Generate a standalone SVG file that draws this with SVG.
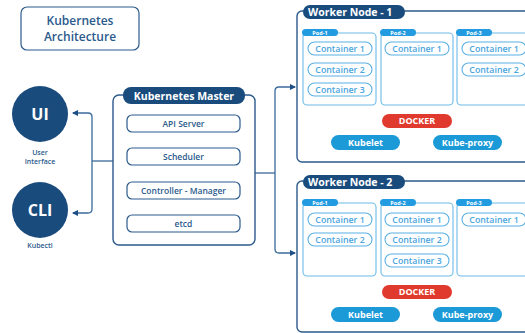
<svg xmlns="http://www.w3.org/2000/svg" width="525" height="333" viewBox="0 0 525 333">
<defs>
<style>
text{font-family:"Open Sans","Lato","Liberation Sans",sans-serif;}
.navy{fill:#194b7d;}
.ttl{fill:#fff;font-weight:bold;font-size:10.5px;}
.mbox{fill:#fff;stroke:#2b5a8c;stroke-width:1.4;}
.item{fill:#fff;stroke:#2b5a8c;stroke-width:1.2;}
.itxt{fill:#2b5a8c;font-size:8.5px;font-weight:600;text-anchor:middle;}
.pod{fill:#fff;stroke:#6bbbe8;stroke-width:1.1;}
.podlbl{fill:#239be0;}
.podtxt{fill:#fff;font-size:5.5px;font-weight:bold;text-anchor:middle;}
.cont{fill:#fff;stroke:#5ab0e4;stroke-width:1.1;}
.ctxt{fill:#4aa5de;font-size:8.8px;font-weight:600;text-anchor:middle;}
.docker{fill:#e03a2e;}
.kub{fill:#1c9ad8;}
.wtxt{fill:#fff;font-size:9px;font-weight:bold;text-anchor:middle;}
.conn{fill:none;stroke:#3a6a9c;stroke-width:1.3;}
.lbl{fill:#2b5a8c;font-size:7px;font-weight:600;text-anchor:middle;}
</style>
<marker id="ah" viewBox="0 0 6 6" refX="5" refY="3" markerWidth="5" markerHeight="5" orient="auto">
<path d="M0,0 L6,3 L0,6 z" fill="#1d4e85"/>
</marker>
</defs>
<rect width="525" height="333" fill="#fff"/>

<g id="title">
<rect x="21" y="7" width="118" height="43" rx="6" fill="#fff" stroke="#2b5a8c" stroke-width="1.2"/>
<text x="80" y="25" text-anchor="middle" font-size="12" font-weight="600" fill="#2b5a8c">Kubernetes</text>
<text x="80" y="41" text-anchor="middle" font-size="12" font-weight="600" fill="#2b5a8c">Architecture</text>
</g>

<g id="ui">
<circle cx="40" cy="114" r="28" class="navy"/>
<text x="40" y="120" text-anchor="middle" font-size="16" font-weight="bold" fill="#fff">UI</text>
<text x="40" y="155" class="lbl">User</text>
<text x="40" y="164" class="lbl">Interface</text>
</g>

<g id="cli">
<circle cx="40" cy="210" r="28" class="navy"/>
<text x="40" y="216" text-anchor="middle" font-size="16" font-weight="bold" fill="#fff">CLI</text>
<text x="40" y="248" class="lbl">Kubectl</text>
</g>

<g id="connectors">
<path class="conn" d="M113,161 H92"/>
<path class="conn" d="M92,161 V117 Q92,113 88,113 H73" marker-end="url(#ah)"/>
<path class="conn" d="M92,161 V209 Q92,213 88,213 H73" marker-end="url(#ah)"/>
<path class="conn" d="M255,173 H275"/>
<path class="conn" d="M275,173 V91 Q275,87 279,87 H295" marker-end="url(#ah)"/>
<path class="conn" d="M275,173 V249 Q275,253 279,253 H295" marker-end="url(#ah)"/>
</g>

<g id="master">
<rect x="113" y="95" width="142" height="150" rx="6" class="mbox"/>
<rect x="123" y="87" width="122" height="17" rx="8" class="navy"/>
<text x="184" y="99.5" text-anchor="middle" class="ttl">Kubernetes Master</text>
<rect x="127" y="115" width="113" height="17" rx="5" class="item"/>
<text x="183.5" y="126.5" class="itxt">API Server</text>
<rect x="127" y="148" width="113" height="17" rx="5" class="item"/>
<text x="183.5" y="159.5" class="itxt">Scheduler</text>
<rect x="127" y="182" width="113" height="17" rx="5" class="item"/>
<text x="183.5" y="193.5" class="itxt">Controller - Manager</text>
<rect x="127" y="215" width="113" height="17" rx="5" class="item"/>
<text x="183.5" y="226.5" class="itxt">etcd</text>
</g>

<g id="worker1">
<rect x="297" y="11" width="260" height="151" rx="5" fill="#fff" stroke="#2b5a8c" stroke-width="1.4"/>
<rect x="303" y="5" width="102" height="14" rx="7" class="navy"/>
<text x="308" y="15.8" class="ttl">Worker Node - 1</text>
<g id="w1pod1">
<rect x="303" y="33" width="73" height="72" rx="4" class="pod"/>
<rect x="302" y="29" width="36" height="7" rx="3.5" class="podlbl"/>
<text x="320" y="34.5" class="podtxt">Pod-1</text>
<rect x="308" y="42" width="64" height="13" rx="6.5" class="cont"/>
<text x="340" y="51.6" class="ctxt">Container 1</text>
<rect x="308" y="63" width="64" height="13" rx="6.5" class="cont"/>
<text x="340" y="72.6" class="ctxt">Container 2</text>
<rect x="308" y="83" width="64" height="13" rx="6.5" class="cont"/>
<text x="340" y="92.6" class="ctxt">Container 3</text>
</g>
<g id="w1pod2">
<rect x="381" y="33" width="72" height="72" rx="4" class="pod"/>
<rect x="380" y="29" width="36" height="7" rx="3.5" class="podlbl"/>
<text x="398" y="34.5" class="podtxt">Pod-2</text>
<rect x="385" y="42" width="64" height="13" rx="6.5" class="cont"/>
<text x="417" y="51.6" class="ctxt">Container 1</text>
</g>
<g id="w1pod3">
<rect x="457" y="33" width="80" height="72" rx="4" class="pod"/>
<rect x="456" y="29" width="36" height="7" rx="3.5" class="podlbl"/>
<text x="474" y="34.5" class="podtxt">Pod-3</text>
<rect x="462" y="42" width="64" height="13" rx="6.5" class="cont"/>
<text x="494" y="51.6" class="ctxt">Container 1</text>
<rect x="462" y="63" width="64" height="13" rx="6.5" class="cont"/>
<text x="494" y="72.6" class="ctxt">Container 2</text>
</g>
<rect x="382" y="114" width="70" height="14" rx="7" class="docker"/>
<text x="417" y="124.2" class="wtxt">DOCKER</text>
<rect x="331" y="135" width="69" height="15" rx="7.5" class="kub"/>
<text x="365.5" y="145.7" class="wtxt">Kubelet</text>
<rect x="433" y="135" width="69" height="15" rx="7.5" class="kub"/>
<text x="467.5" y="145.7" class="wtxt">Kube-proxy</text>
</g>

<g id="worker2">
<rect x="297" y="181" width="260" height="151" rx="5" fill="#fff" stroke="#2b5a8c" stroke-width="1.4"/>
<rect x="303" y="175" width="102" height="14" rx="7" class="navy"/>
<text x="308" y="185.8" class="ttl">Worker Node - 2</text>
<g id="w2pod1">
<rect x="303" y="203" width="73" height="73" rx="4" class="pod"/>
<rect x="302" y="199" width="36" height="7" rx="3.5" class="podlbl"/>
<text x="320" y="204.5" class="podtxt">Pod-1</text>
<rect x="308" y="213" width="64" height="13" rx="6.5" class="cont"/>
<text x="340" y="222.6" class="ctxt">Container 1</text>
<rect x="308" y="233" width="64" height="13" rx="6.5" class="cont"/>
<text x="340" y="242.6" class="ctxt">Container 2</text>
</g>
<g id="w2pod2">
<rect x="381" y="203" width="72" height="73" rx="4" class="pod"/>
<rect x="380" y="199" width="36" height="7" rx="3.5" class="podlbl"/>
<text x="398" y="204.5" class="podtxt">Pod-2</text>
<rect x="385" y="213" width="64" height="13" rx="6.5" class="cont"/>
<text x="417" y="222.6" class="ctxt">Container 1</text>
<rect x="385" y="233" width="64" height="13" rx="6.5" class="cont"/>
<text x="417" y="242.6" class="ctxt">Container 2</text>
<rect x="385" y="254" width="64" height="13" rx="6.5" class="cont"/>
<text x="417" y="263.6" class="ctxt">Container 3</text>
</g>
<g id="w2pod3">
<rect x="457" y="203" width="80" height="73" rx="4" class="pod"/>
<rect x="456" y="199" width="36" height="7" rx="3.5" class="podlbl"/>
<text x="474" y="204.5" class="podtxt">Pod-3</text>
<rect x="462" y="213" width="64" height="13" rx="6.5" class="cont"/>
<text x="494" y="222.6" class="ctxt">Container 1</text>
</g>
<rect x="382" y="285" width="70" height="14" rx="7" class="docker"/>
<text x="417" y="295.2" class="wtxt">DOCKER</text>
<rect x="331" y="307" width="69" height="15" rx="7.5" class="kub"/>
<text x="365.5" y="317.7" class="wtxt">Kubelet</text>
<rect x="433" y="307" width="69" height="15" rx="7.5" class="kub"/>
<text x="467.5" y="317.7" class="wtxt">Kube-proxy</text>
</g>
</svg>
